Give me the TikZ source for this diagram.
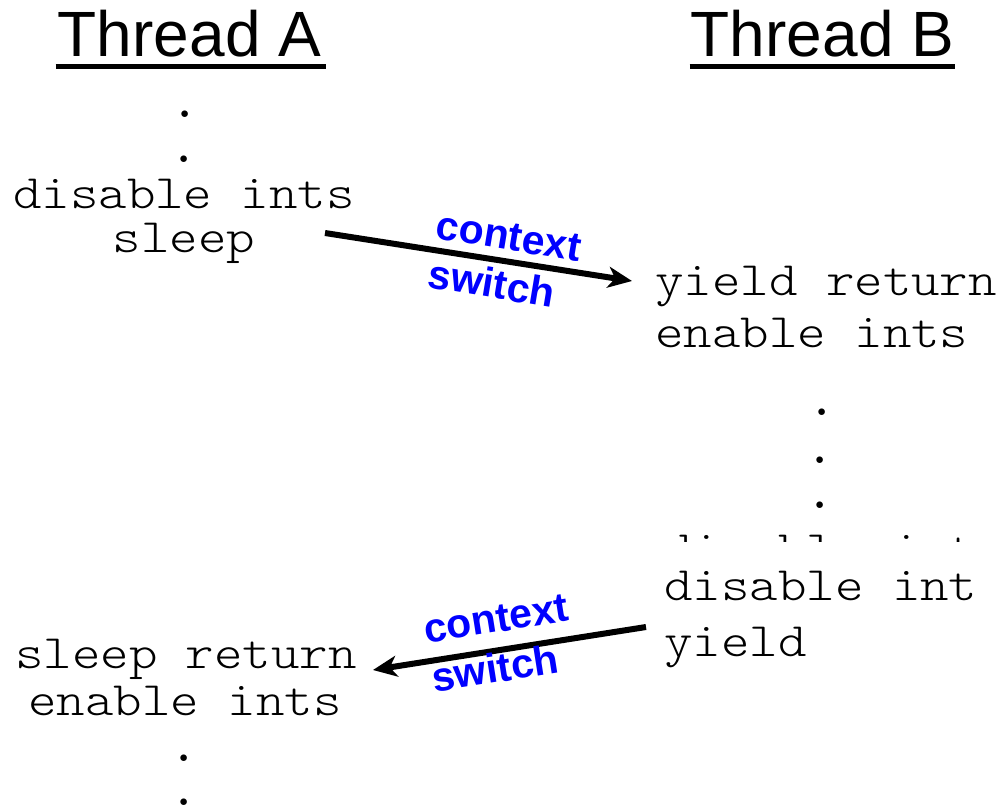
\documentclass[tikz,border=0pt]{standalone}
\usepackage{fontspec}
\setmainfont{Liberation Sans}
\usetikzlibrary{arrows.meta}
\begin{document}
\begin{tikzpicture}[x=1pt,y=-1pt,
  title/.style={font=\fontsize{64}{64}\selectfont, inner sep=0pt, anchor=base},
  code/.style={font=\ttfamily\fontseries{l}\fontsize{48}{48}\selectfont, inner sep=0pt, xscale=1.13},
  dotmark/.style={font=\ttfamily\bfseries\fontsize{48}{48}\selectfont, inner sep=0pt, anchor=base},
  uline/.style={line width=5pt},
  cs/.style={line width=6pt, -{Stealth[length=24pt,width=21pt,inset=7pt]}},
  cslabel/.style={font=\bfseries\fontsize{41}{41}\selectfont, text=blue, inner sep=0pt}
]
\useasboundingbox (0,0) rectangle (1002,806);

% column headings
\node[title] (tA) at (189.5,56) {Thread A};
\node[title] (tB) at (822.5,56) {Thread B};
\draw[uline] ([shift={(-2,10)}]tA.base west) -- ([shift={(5,10)}]tA.base east);
\draw[uline] ([shift={(-1,10)}]tB.base west) -- ([shift={(1,10)}]tB.base east);

% thread A, before the switch
\node[dotmark] (a1) at (185,117) {.};
\node[dotmark] (a2) at (184,162) {.};
\node[code, anchor=base] (adis) at (184,208) {disable ints};
\node[code, anchor=base] (asleep) at (184,252) {sleep};

% thread B
\node[code, anchor=base west] (byret) at (655,295) {yield return};
\node[code, anchor=base west] (ben) at (655,347) {enable ints};
\node[dotmark] (b1) at (822,415) {.};
\node[dotmark] (b2) at (820,463) {.};
\node[dotmark] (b3) at (820,508) {.};
\begin{scope}
  \clip (600,520) rectangle (1002,541);
  \node[code, anchor=base west] (bghost) at (664,564) {disable int};
\end{scope}
\node[code, anchor=base west] (bdis) at (664,600) {disable int};
\node[code, anchor=base west] (byield) at (664,656) {yield};

% thread A, after the switch back
\node[code, anchor=base] (asret) at (186,668) {sleep return};
\node[code, anchor=base] (aen) at (185,715) {enable ints};
\node[dotmark] (a3) at (184,761) {.};
\node[dotmark] (a4) at (184,805) {.};

% context switches
\coordinate (s1) at (325,233);
\coordinate (e1) at (632,281);
\coordinate (s2) at (646,627);
\coordinate (e2) at (373,670);
\draw[cs] (s1) -- (e1);
\draw[cs] (s2) -- (e2);
\node[cslabel, rotate=-9.4] (c1a) at (509,237) {context};
\node[cslabel, rotate=-9.4] (c1b) at (492,283) {switch};
\node[cslabel, rotate=9] (c2a) at (496,619) {context};
\node[cslabel, rotate=9] (c2b) at (495,668) {switch};
\end{tikzpicture}
\end{document}
